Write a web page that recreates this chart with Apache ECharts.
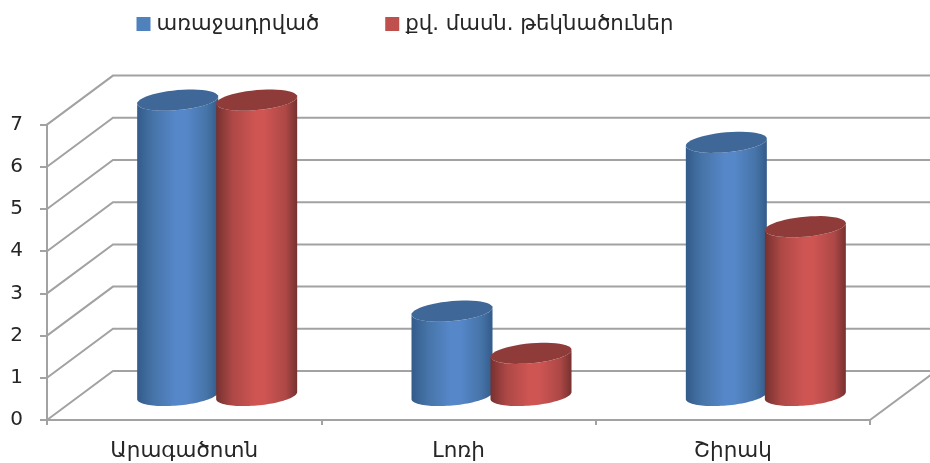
<!DOCTYPE html>
<html lang="hy">
<head>
    <meta charset="UTF-8"/>
    <title>Chart</title>
    <style>
        * {
            padding: 0;
            margin: 0;
        }

        body {
            background-color: white;
        }

        #chart {
            width: 930px;
            height: 463px;
            filter: blur(0.4px);
        }
    </style>
    <script src="https://cdn.jsdelivr.net/npm/echarts@6/dist/echarts.min.js"></script>
</head>
<body>
<div id="chart"></div>
<script>
    const categories = ['Արագածոտն', 'Լոռի', 'Շիրակ']
    const seriesNames = ['առաջադրված', 'քվ. մասն. թեկնածուներ']
    const proposed = [7, 2, 6]
    const candidates = [7, 1, 4]
    const wallTicks = [0, 1, 2, 3, 4, 5, 6, 7]

    // fake 3d: how far the back wall sits from the front axes
    const DEPTH_X = 66
    const DEPTH_Y = 49
    const BAR_RX = 40.5
    const BAR_RY = 10
    const BAR_TILT = 3.5
    const BAR_SHIFT = 39.5

    const fontFamily = '"DejaVu Sans", sans-serif'
    const textColor = '#262626'
    const axisColor = '#a2a2a2'
    const axisWidth = 2

    const chart = echarts.init(document.getElementById('chart'))

    function wallLine(params, api) {
        const box = params.coordSys
        const right = box.x + box.width
        const y = api.coord([0, api.value(0)])[1]
        const by = y - DEPTH_Y
        const style = {stroke: axisColor, lineWidth: axisWidth, fill: null}
        const children = [{
            type: 'polyline',
            shape: {points: [[box.x, y], [box.x + DEPTH_X, by], [right + DEPTH_X, by]]},
            style: style
        }]
        // floor edge on the right side
        if (api.value(0) === 0) {
            children.push({
                type: 'polyline',
                shape: {points: [[right, y], [right + DEPTH_X, by]]},
                style: style
            })
        }
        return {type: 'group', children: children}
    }

    // point on the tilted ellipse of a cylinder end, t in radians
    function ringPoint(cx, cy, t) {
        const c = Math.cos(t)
        return [cx + BAR_RX * c, cy - BAR_TILT * c + BAR_RY * Math.sin(t)]
    }

    function ring(cx, cy, from, to) {
        const pts = []
        for (let i = 0; i <= 48; i++) {
            pts.push(ringPoint(cx, cy, from + (to - from) * i / 48))
        }
        return pts
    }

    function cylinder(shift, colors) {
        return function (params, api) {
            const base = api.coord([api.value(0), 0])
            const top = api.coord([api.value(0), api.value(1)])
            const cx = base[0] + DEPTH_X / 2 + shift
            const y0 = base[1] - DEPTH_Y / 2
            const y1 = top[1] - DEPTH_Y / 2
            // body: lower half of the bottom ring, then back along the top ring
            const body = ring(cx, y0, Math.PI, 0).reverse().concat(ring(cx, y1, 0, Math.PI).reverse())
            return {
                type: 'group',
                children: [
                    {
                        type: 'polygon',
                        shape: {points: body},
                        style: {
                            fill: new echarts.graphic.LinearGradient(0, 0, 1, 0, [
                                {offset: 0, color: colors[0]},
                                {offset: 0.2, color: colors[1]},
                                {offset: 0.48, color: colors[2]},
                                {offset: 0.6, color: colors[2]},
                                {offset: 0.86, color: colors[1]},
                                {offset: 1, color: colors[0]}
                            ])
                        }
                    },
                    {
                        type: 'polygon',
                        shape: {points: ring(cx, y1, 0, Math.PI * 2)},
                        style: {fill: colors[3]}
                    }
                ]
            }
        }
    }

    function barSeries(name, values, shift, legendColor, colors) {
        return {
            name: name,
            type: 'custom',
            renderItem: cylinder(shift, colors),
            itemStyle: {color: legendColor},
            encode: {x: 0, y: 1},
            data: values.map((v, i) => [i, v]),
            z: 3
        }
    }

    chart.setOption({
        animation: false,
        legend: {
            left: 131.5,
            top: 8.5,
            icon: 'rect',
            itemWidth: 14,
            itemHeight: 14,
            itemGap: 66,
            data: seriesNames,
            textStyle: {fontFamily: fontFamily, fontSize: 21.25, color: textColor, padding: [0, 0, 0, 1]}
        },
        grid: {left: 47, top: 124.6, width: 823, height: 295.4},
        xAxis: {
            type: 'category',
            data: categories,
            axisLine: {lineStyle: {color: axisColor, width: axisWidth}},
            axisTick: {show: true, interval: 0, length: 5, lineStyle: {color: axisColor, width: axisWidth}},
            axisLabel: {fontFamily: fontFamily, fontSize: 21.5, color: textColor, margin: 20}
        },
        yAxis: {
            type: 'value',
            min: 0,
            max: 7,
            interval: 1,
            splitLine: {show: false},
            axisLine: {show: true, lineStyle: {color: axisColor, width: axisWidth}},
            axisTick: {show: true, length: 7, lineStyle: {color: axisColor, width: axisWidth}},
            axisLabel: {fontFamily: fontFamily, fontSize: 20, color: textColor, margin: 24, padding: [6, 0, 0, 0]}
        },
        series: [
            {
                type: 'custom',
                silent: true,
                renderItem: wallLine,
                encode: {y: 0},
                data: wallTicks.map(v => [v]),
                z: 1
            },
            barSeries(seriesNames[0], proposed, -BAR_SHIFT, '#4F81BD', ['#335B8A', '#4674A8', '#5687C9', '#3F6797']),
            barSeries(seriesNames[1], candidates, BAR_SHIFT, '#C0504D', ['#763130', '#AD4846', '#CE5552', '#8E3B39'])
        ]
    })
</script>
</body>
</html>
